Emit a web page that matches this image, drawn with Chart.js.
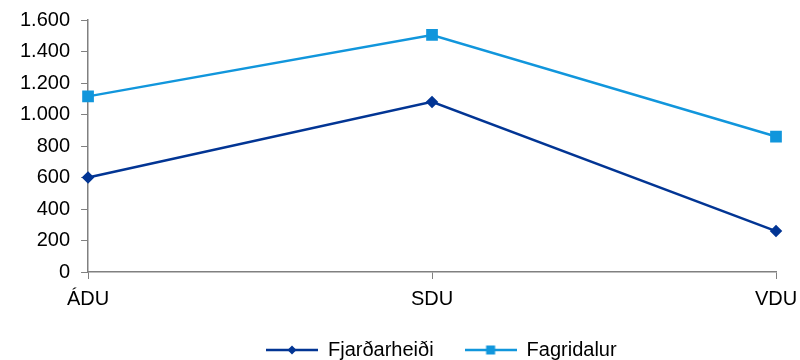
<!DOCTYPE html>
<html>
<head>
<meta charset="utf-8">
<script src="https://cdn.jsdelivr.net/npm/chart.js@4/dist/chart.umd.min.js"></script>
<style>
  html, body { margin: 0; padding: 0; background: #fff; }
  #wrap { width: 800px; height: 360px; }
</style>
</head>
<body>
<div id="wrap"><canvas id="myChart"></canvas></div>
<script>
var categories = ["ÁDU", "SDU", "VDU"];
var fjardarheidi = [600, 1080, 260];
var fagridalur = [1115, 1505, 860];
var yTicks = [0, 200, 400, 600, 800, 1000, 1200, 1400, 1600];

var darkBlue = "#023594";
var lightBlue = "#1196dc";
var fontFam = "Liberation Sans, Arial, sans-serif";

// legend icon: short line with the marker in the middle
function legendIcon(color, style){
    var c = document.createElement("canvas");
    c.width = 52; c.height = 14;
    var ctx = c.getContext("2d");
    ctx.strokeStyle = color;
    ctx.lineWidth = 2.5;
    ctx.beginPath();
    ctx.moveTo(0, 7); ctx.lineTo(52, 7);
    ctx.stroke();
    ctx.fillStyle = color;
    if (style == "diamond") {
        ctx.beginPath();
        ctx.moveTo(26, 2.5); ctx.lineTo(30.5, 7); ctx.lineTo(26, 11.5); ctx.lineTo(21.5, 7);
        ctx.closePath(); ctx.fill();
    } else {
        ctx.fillRect(21.5, 2.5, 9, 9);
    }
    return c;
}

function fmt(v){
    return String(v).replace(/\B(?=(\d{3})+(?!\d))/g, ".");
}

var data = {
    labels: categories,
    datasets: [{
        label: "Fjarðarheiði",
        data: fjardarheidi,
        borderColor: darkBlue,
        backgroundColor: darkBlue,
        borderWidth: 2.5,
        pointStyle: "rectRot",
        pointRadius: 4.5,
        pointHoverRadius: 4.5,
        tension: 0
    }, {
        label: "Fagridalur",
        data: fagridalur,
        borderColor: lightBlue,
        backgroundColor: lightBlue,
        borderWidth: 2.5,
        pointStyle: "rect",
        pointRadius: 6.5,
        pointHoverRadius: 6.5,
        tension: 0
    }]
};

var icons = [legendIcon(darkBlue, "diamond"), legendIcon(lightBlue, "square")];

var config = {
    type: "line",
    data: data,
    options: {
        responsive: true,
        maintainAspectRatio: false,
        animation: false,
        // right padding is negative so the centred legend sits where the original has it,
        // the x axis keeps the plot inside with its own paddingRight
        layout: { padding: { left: 9, right: -73.6, top: 0, bottom: -10 } },
        plugins: {
            tooltip: { enabled: false },
            legend: {
                position: "bottom",
                labels: {
                    font: { family: fontFam, size: 20 },
                    color: "#000",
                    usePointStyle: true,
                    pointStyleWidth: 52,
                    padding: 31,
                    generateLabels: function(chart){
                        return chart.data.datasets.map(function(ds, i){
                            return {
                                text: ds.label,
                                pointStyle: icons[i],
                                fillStyle: ds.borderColor,
                                strokeStyle: ds.borderColor,
                                lineWidth: 0,
                                datasetIndex: i
                            };
                        });
                    }
                }
            }
        },
        scales: {
            x: {
                offset: false,
                afterFit: function(axis){
                    axis.paddingRight = 24;
                    axis.height = 37;
                },
                grid: { display: true, drawOnChartArea: false, tickLength: 7, color: "#808080" },
                border: { color: "#808080", width: 1.5 },
                ticks: {
                    font: { family: fontFam, size: 20 },
                    color: "#000",
                    padding: 8,
                    maxRotation: 0
                }
            },
            y: {
                min: 0,
                max: 1600,
                afterBuildTicks: function(axis){
                    axis.ticks = yTicks.map(function(v){ return { value: v }; });
                },
                afterFit: function(axis){
                    axis.paddingTop = 20;
                },
                grid: { display: true, drawOnChartArea: false, tickLength: 7, color: "#808080" },
                border: { color: "#808080", width: 1.5 },
                ticks: {
                    font: { family: fontFam, size: 20 },
                    color: "#000",
                    padding: 11,
                    callback: function(v){ return fmt(v); }
                }
            }
        }
    }
};

var myChart = new Chart(document.getElementById("myChart"), config);
</script>
</body>
</html>
